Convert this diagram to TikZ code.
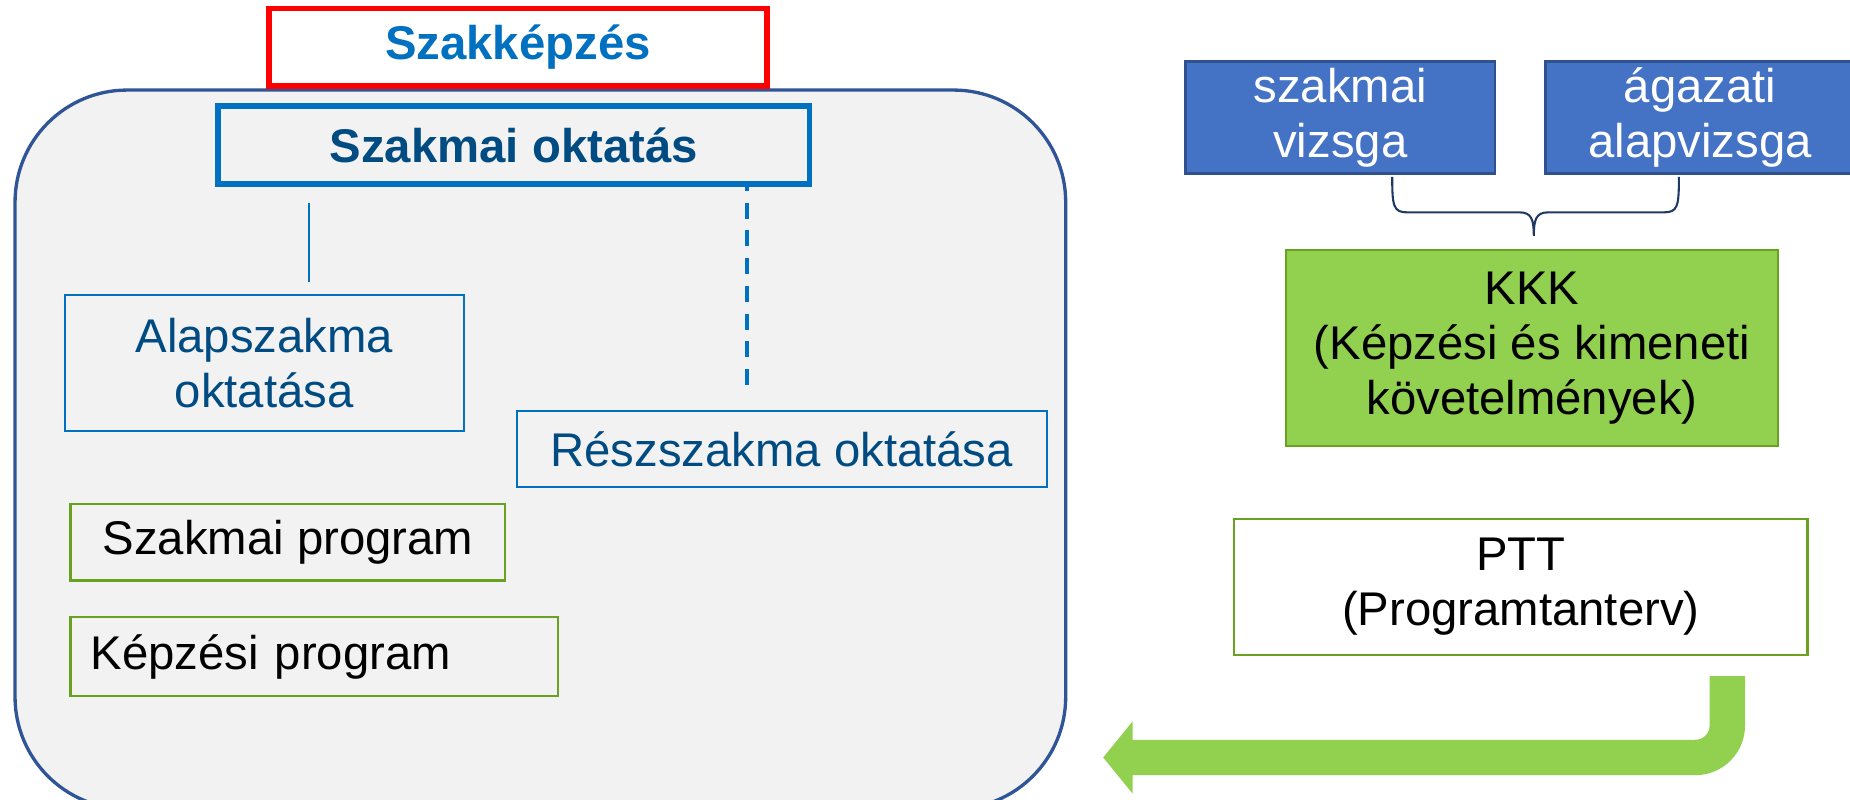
\documentclass[tikz,border=0pt]{standalone}
\usepackage{fontspec}
\setmainfont{Liberation Sans}
\usetikzlibrary{arrows.meta}
\definecolor{szRed}{RGB}{255,0,0}
\definecolor{szBlue}{RGB}{0,112,192}
\definecolor{szDark}{RGB}{0,75,130}
\definecolor{frameLine}{RGB}{47,85,151}
\definecolor{frameFill}{RGB}{242,242,242}
\definecolor{examFill}{RGB}{68,114,196}
\definecolor{examLine}{RGB}{47,82,143}
\definecolor{kkkFill}{RGB}{146,208,80}
\definecolor{kkkLine}{RGB}{106,161,33}
\definecolor{braceLine}{RGB}{31,56,100}
\begin{document}
\begin{tikzpicture}[x=0.01cm,y=-0.01cm,
    every node/.style={font=\fontsize{11.4}{13.2}\selectfont, inner sep=0pt, align=center},
    frame/.style={draw=frameLine, fill=frameFill, line width=0.8pt, rounded corners=0.95cm,
      minimum width=8.9cm, minimum height=6.09cm},
    redbox/.style={draw=szRed, fill=white, line width=1.3pt, minimum width=4.22cm, minimum height=0.66cm,
      text=szBlue, font=\fontsize{11.4}{13.2}\selectfont\bfseries},
    bluebox/.style={draw=szBlue, line width=1.3pt, minimum width=5.01cm, minimum height=0.66cm,
      text=szDark, font=\fontsize{11.4}{13.2}\selectfont\bfseries},
    typebox/.style={draw=szBlue, line width=0.5pt, text=szDark},
    progbox/.style={draw=kkkLine, line width=0.6pt, minimum height=0.65cm},
    exambox/.style={draw=examLine, fill=examFill, line width=0.6pt, text=white,
      minimum width=2.62cm, minimum height=0.95cm},
    kkkbox/.style={draw=kkkLine, fill=kkkFill, line width=0.6pt},
    pttbox/.style={draw=kkkLine, fill=white, line width=0.6pt}
  ]
  \useasboundingbox (0,0) rectangle (1568,678);
  \node[frame] (frame) at (458,381) {};
  \node[redbox] (szk) at (439,40) {Szakképzés};
  \node[bluebox] (okt) at (435.5,123) {Szakmai oktatás};
  \node[typebox, minimum width=3.38cm, minimum height=1.15cm] (alap) at (224,307.5) {Alapszakma\\oktatása};
  \node[typebox, minimum width=4.49cm, minimum height=0.65cm] (resz) at (662.5,380.5) {Részszakma oktatása};
  \node[progbox, minimum width=3.68cm] (szprog) at (244,459.5) {Szakmai program};
  \node[progbox, minimum height=0.67cm, inner xsep=0.17cm, text width=3.79cm, align=left] (kprog) at (266.5,556.5) {Képzési program};

  \node[exambox] (vizsga) at (1136,99.5) {szakmai\\vizsga};
  \node[exambox] (agazati) at (1441,99.5) {ágazati\\alapvizsga};
  \node[kkkbox, minimum width=4.17cm, minimum height=1.66cm] (kkk) at (1298.5,295) {KKK\\(Képzési és kimeneti\\követelmények)};
  \node[pttbox, minimum width=4.86cm, minimum height=1.15cm] (ptt) at (1289,497.5) {PTT\\(Programtanterv)};

  \begin{scope}[szBlue]
    \draw[line width=0.5pt, shorten <=0.14cm, shorten >=0.1cm] (okt.south -| 262,0) -- (alap.north -| 262,0);
    \draw[line width=1pt, dash pattern=on 0.135cm off 0.1cm, dash phase=0.1cm, shorten >=0.15cm] (okt.south -| 633,0) -- (resz.north -| 633,0);
  \end{scope}

  \coordinate (bl) at (1180,150);
  \coordinate (br) at (1423,150);
  \coordinate (bt) at (1300,200);
  \draw[braceLine, line width=0.5pt] (bl) .. controls +(0,25) and +(-12,0) .. (1193,180) -- (1288,180)
    .. controls +(10,0) and +(0,-14) .. (bt) .. controls +(0,-14) and +(-10,0) .. (1312,180) -- (1410,180)
    .. controls +(12,0) and +(0,25) .. (br);

  \coordinate (aStart) at (1464,573);
  \coordinate (aEnd) at (935,642);
  \draw[kkkFill, line width=0.3cm, rounded corners=0.27cm, -{Triangle[length=0.25cm 0, width=0.6cm 0]}] (aStart) |- (aEnd);
\end{tikzpicture}
\end{document}
